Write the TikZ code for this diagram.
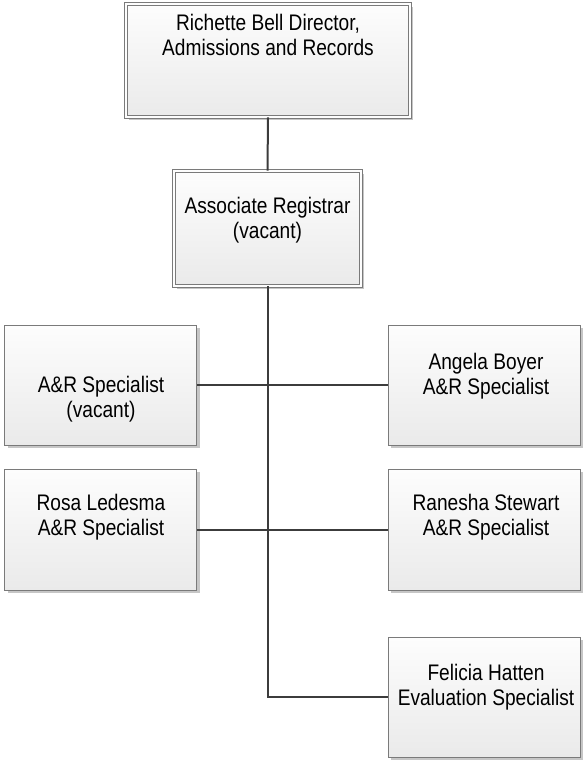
\documentclass[tikz,border=0pt]{standalone}
\usepackage{fontspec}
\setmainfont{Liberation Sans}[FakeStretch=0.85]
\usetikzlibrary{shadows}
\definecolor{boxline}{HTML}{7A7A7A}
\definecolor{boxtop}{HTML}{FDFDFD}
\definecolor{boxbottom}{HTML}{EAEAEA}
\definecolor{linkcol}{HTML}{3C3C3C}
\definecolor{shadowcol}{HTML}{C6C6C6}
\tikzset{
  orgbox/.style={draw=boxline, line width=0.9pt, top color=boxtop, bottom color=boxbottom,
    inner sep=0pt, minimum width=#1, text width={},
    drop shadow={shadow xshift=3pt, shadow yshift=-3pt, fill=shadowcol, opacity=1}},
  orgbox/.default=192pt,
  headbox/.style={orgbox=#1, double=boxtop, double distance=2.6pt, line width=0.8pt},
  boxtext/.style={align=center, font=\fontsize{22.5}{24.5}\selectfont, inner sep=0pt, text=black},
  link/.style={draw=linkcol, line width=2pt}
}
\begin{document}
\begin{tikzpicture}[x=1pt, y=-1pt]
\useasboundingbox (0,0) rectangle (583,761);
% boxes
\node[headbox=284pt, minimum height=113pt] (dir) at (268,60.5) {};
\node[headbox=187pt, minimum height=115pt] (assoc) at (267.5,228.5) {};
\node[orgbox, minimum height=120pt] (spec) at (100.5,385) {};
\node[orgbox, minimum height=120pt] (boyer) at (484,385) {};
\node[orgbox, minimum height=121pt] (rosa) at (100.5,529.5) {};
\node[orgbox, minimum height=121pt] (stewart) at (484,529.5) {};
\node[orgbox, minimum height=120pt] (hatten) at (484,697) {};
% texts
\node[boxtext] (dirT) at (268,35) {Richette Bell Director,\\Admissions and Records};
\node[boxtext] (assocT) at (267.5,220) {Associate Registrar\\(vacant)};
\node[boxtext] (specT) at (101,399) {A\&R Specialist\\(vacant)};
\node[boxtext] (boyerT) at (486,376) {Angela Boyer\\A\&R Specialist};
\node[boxtext] (rosaT) at (101,517) {Rosa Ledesma\\A\&R Specialist};
\node[boxtext] (stewartT) at (486,517) {Ranesha Stewart\\A\&R Specialist};
\node[boxtext] (hattenT) at (486,687) {Felicia Hatten\\Evaluation Specialist};
% connectors
\draw[link] (dir.south) -- (assoc.north);
\draw[link] (assoc.south) -- (assoc.south |- hatten.west) -- (hatten.west);
\draw[link] (spec.east) -- (boyer.west);
\draw[link] (rosa.east) -- (stewart.west);
\end{tikzpicture}
\end{document}
